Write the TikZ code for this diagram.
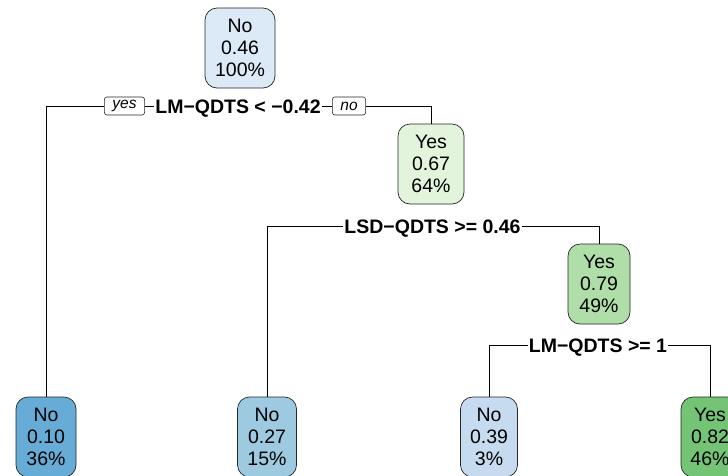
\documentclass[tikz,border=0pt]{standalone}
\usepackage{fontspec}
\setmainfont{Liberation Sans}
\definecolor{cRoot}{HTML}{DCE9F6}
\definecolor{cGreenA}{HTML}{E3F4DD}
\definecolor{cGreenB}{HTML}{B0DEA8}
\definecolor{cGreenC}{HTML}{74C476}
\definecolor{cBlueA}{HTML}{66ACD6}
\definecolor{cBlueB}{HTML}{9ECAE1}
\definecolor{cBlueC}{HTML}{C6DBEF}
\tikzset{
  treebox/.style={draw=black!85, line width=0.7pt, rounded corners=12pt,
    align=center, inner sep=0pt, minimum height=80pt,
    font=\fontsize{19.5}{21.8}\selectfont},
  splitlabel/.style={inner xsep=1pt, inner ysep=0pt, text height=14pt,
    text depth=0pt, font=\fontsize{19.5}{21}\selectfont\bfseries},
  tag/.style={draw=black!85, line width=0.6pt, rounded corners=2.5pt,
    inner xsep=8pt, inner ysep=0pt, minimum height=18pt,
    font=\fontsize{15.5}{15.5}\selectfont\itshape},
  edge/.style={draw=black, line width=0.7pt}
}
\begin{document}
\begin{tikzpicture}[x=1pt, y=-1pt]
  \clip (0,0) rectangle (728,475);
  \fill[white] (0,0) rectangle (728,475);

  % nodes of the tree
  \node[treebox, fill=cRoot,   minimum width=70pt] (root) at (240,48)  {No\\0.46\\100\%};
  \node[treebox, fill=cGreenA, minimum width=66pt] (n2)   at (431,164) {Yes\\0.67\\64\%};
  \node[treebox, fill=cGreenB, minimum width=62pt] (n3)   at (599,284) {Yes\\0.79\\49\%};
  \node[treebox, fill=cBlueA,  minimum width=60pt] (l1)   at (46,437)  {No\\0.10\\36\%};
  \node[treebox, fill=cBlueB,  minimum width=59pt] (l2)   at (267,437) {No\\0.27\\15\%};
  \node[treebox, fill=cBlueC,  minimum width=57pt] (l3)   at (489,437) {No\\0.39\\3\%};
  \node[treebox, fill=cGreenC, minimum width=58pt] (l4)   at (710,437) {Yes\\0.82\\46\%};

  % split rules
  \node[splitlabel] (s1) at (238,106) {LM−QDTS < −0.42};
  \node[splitlabel] (s2) at (432.5,226) {LSD−QDTS >= 0.46};
  \node[splitlabel] (s3) at (598,345) {LM−QDTS >= 1};

  % branch tags
  \node[tag] (yes) at (124.5,106) {yes};
  \node[tag] (no)  at (349,106)   {no};

  % connectors
  \draw[edge] (s1.west) -- (yes.east);
  \draw[edge] (yes.west) -| (l1.north);
  \draw[edge] (s1.east) -- (no.west);
  \draw[edge] (no.east) -| (n2.north);
  \draw[edge] (s2.west) -| (l2.north);
  \draw[edge] (s2.east) -| (n3.north);
  \draw[edge] (s3.west) -| (l3.north);
  \draw[edge] (s3.east) -| (l4.north);
\end{tikzpicture}
\end{document}
